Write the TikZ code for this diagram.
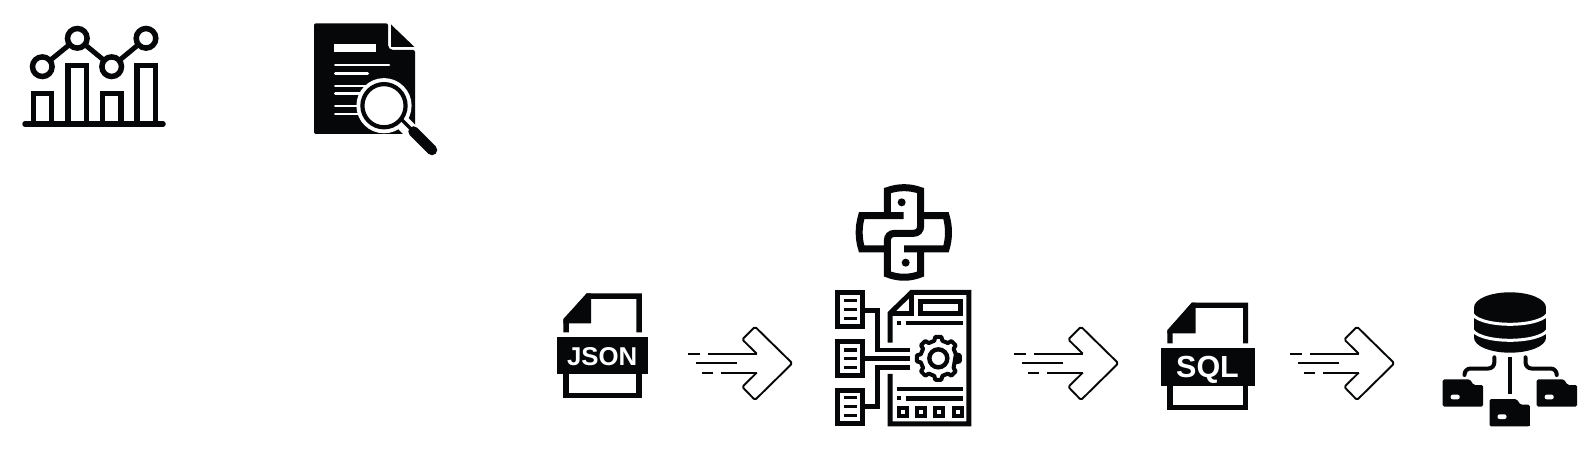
\documentclass[tikz,border=0pt]{standalone}
\usepackage{fontspec}
\setmainfont{Liberation Sans}
\definecolor{ink}{HTML}{050708}
\tikzset{
  ln/.style={draw=ink,line width=#1,line cap=butt,line join=miter},
  rln/.style={draw=ink,line width=#1,line cap=round,line join=round},
  wln/.style={draw=white,line width=#1,line cap=round},
  banner/.style={font=\bfseries\fontsize{#1}{#1}\selectfont,text=white,anchor=base,inner sep=0pt},
  flowarrow/.pic={
    \draw[draw=ink,line width=1.9pt,line join=round,rounded corners=1.6pt]
      (756.7,353.7) -- (742.3,339.5) -- (755,326.7) -- (792.3,363.3) -- (755,400) -- (742.3,386.9) -- (756.7,372.7);
    \draw[draw=ink,line width=1.9pt] (756.9,353.7) -- (708.3,353.7);
    \draw[draw=ink,line width=1.9pt] (700,353.7) -- (688.3,353.7);
    \draw[draw=ink,line width=1.9pt] (737.3,363.3) -- (696,363.3);
    \draw[draw=ink,line width=1.9pt] (756.9,372.7) -- (721,372.7);
    \draw[draw=ink,line width=1.9pt] (713.3,372.7) -- (701.7,372.7);
  }
}
\begin{document}
\begin{tikzpicture}[x=1pt,y=-1pt]
\useasboundingbox (0,0) rectangle (1595,476);

% --- chart icon
\draw[rln=5.5pt] (25,124) -- (163,124);
\draw[ln=5.4pt] (33.5,124) -- (33.5,93.3) -- (51.5,93.3) -- (51.5,124);
\draw[ln=5.4pt] (68,124) -- (68,65.5) -- (86.5,65.5) -- (86.5,124);
\draw[ln=5.4pt] (102.7,124) -- (102.7,93.3) -- (120.8,93.3) -- (120.8,124);
\draw[ln=5.4pt] (137,124) -- (137,65.5) -- (155.2,65.5) -- (155.2,124);
\draw[ln=5pt] (42.3,66.7) -- (77.3,38.3) -- (111.7,66.7) -- (146,38.3);
\foreach \p in {(42.3,66.7),(77.3,38.3),(111.7,66.7),(146,38.3)}
  \draw[draw=ink,fill=white,line width=5.5pt] \p circle[radius=9.8];

% --- document search icon
\fill[ink,rounded corners=2pt] (314,23.3) -- (388,23.3) -- (388,47) -- (391,50) -- (415,50) -- (415,134) -- (314,134) -- cycle;
\fill[ink] (391,24.5) -- (414.5,47) -- (391,47) -- cycle;
\fill[white] (334.3,44.3) rectangle (375.7,52);
\foreach \yy/\xe in {65/389,73.3/367.7,86/375,93.7/375,106/375,114/375}
  \draw[wln=2.6pt] (335.3,\yy) -- (\xe,\yy);
\draw[wln=15pt,line cap=butt] (400,120) -- (426,147);
\fill[white] (384,105.7) circle[radius=27.6];
\draw[draw=ink,fill=white,line width=4.2pt] (384,105.7) circle[radius=21.6];
\draw[ln=3.4pt] (400,118) -- (414,132);
\draw[rln=10.5pt] (413.5,131.5) -- (432,150);

% --- JSON file
\draw[ln=5.5pt] (566.1,332.3) -- (566.1,320) -- (588,296.1) -- (639,296.1) -- (639,332.3);
\fill[ink] (563.3,320) -- (586.7,293.3) -- (591,293.3) -- (591,323.3) -- (563.3,323.3) -- cycle;
\fill[ink] (557,337) rectangle (647.7,374);
\draw[ln=5.5pt] (566.1,374) -- (566.1,395.6) -- (639,395.6) -- (639,374);
\node[banner=25.8] (jsonlabel) at (602.2,365.3) {JSON};

% --- arrows
\pic {flowarrow};
\pic[xshift=326pt] {flowarrow};
\pic[xshift=602pt] {flowarrow};

% --- python logo
\begin{scope}[shift={(810,175)},x=.3333pt,y=-.3333pt]
\draw[ln=7pt] (281,122) -- (232,122) -- (155,122) .. controls (145,155) and (145,190) .. (155,222) -- (232,222) -- (232,198) .. controls (232,184) and (240,175) .. (254,175) -- (310,175) .. controls (324,175) and (332,166) .. (332,152) -- (332,47) .. controls (300,35) and (265,35) .. (232,47) -- (232,122);
\draw[ln=7pt] (282,222) -- (332,222) -- (408,222) .. controls (418,190) and (418,155) .. (408,122) -- (332,122);
\draw[ln=7pt] (332,222) -- (332,297) .. controls (300,310) and (265,310) .. (232,297) -- (232,222);
\fill[ink] (275,82) circle[radius=12];
\fill[ink] (287,263) circle[radius=12];
\end{scope}

% --- processing sheet
\begin{scope}[shift={(810,280)},x=.3333pt,y=-.3333pt]
\foreach \ty/\by/\la/\lb/\lc in {37/140/62/88/115,185/288/210/236/262,332/430/353/380/407}{
  \draw[ln=5pt] (82,\ty) rectangle (158,\by);
  \foreach \l in {\la,\lb,\lc}
    \draw[ln=3.6pt] (103,\l) -- (140,\l);
}
\draw[ln=4.8pt] (165,92) -- (203,92) -- (203,210) -- (300,210);
\draw[ln=4.8pt] (165,236) -- (300,236);
\draw[ln=4.8pt] (165,380) -- (203,380) -- (203,263) -- (300,263);
\draw[ln=5pt] (240,188) -- (240,100) -- (305,37) -- (477,37) -- (477,432) -- (240,432) -- (240,282);
\draw[ln=5pt] (305,37) -- (305,100) -- (240,100);
\draw[ln=4.8pt] (331,65) rectangle (452,101);
\fill[ink] (261,123) rectangle (273,135);
\draw[ln=4.4pt] (287,129) -- (459,129);
\draw[ln=4.4pt] (262,327) -- (459,327);
\fill[ink] (261,349) rectangle (273,361);
\draw[ln=4.4pt] (287,355) -- (459,355);
\foreach \sx in {278,333,388,443}
  \draw[ln=4.2pt] (\sx-12,383) rectangle (\sx+12,407);
\draw[draw=ink,line width=4pt,line join=round]
  (385+54*cos 13,235-54*sin 13)
  \foreach \a in {0,45,...,315}{
    -- ({385+54*cos(\a-13)},{235-54*sin(\a-13)})
    -- ({385+65*cos(\a-8)},{235-65*sin(\a-8)})
    -- ({385+65*cos(\a+8)},{235-65*sin(\a+8)})
    -- ({385+54*cos(\a+13)},{235-54*sin(\a+13)})
  } -- cycle;
\draw[ln=4.4pt] (385,235) circle[radius=27];
\end{scope}

% --- SQL file
\draw[ln=5.2pt] (1170,343.3) -- (1170,331) -- (1193,305.3) -- (1245.6,305.3) -- (1245.6,343.3);
\fill[ink] (1167.3,331) -- (1191.7,302.7) -- (1195.7,302.7) -- (1195.7,333.3) -- (1167.3,333.3) -- cycle;
\fill[ink] (1161,348.3) rectangle (1254.7,386);
\draw[ln=5.2pt] (1170,386) -- (1170,407.4) -- (1245.6,407.4) -- (1245.6,386);
\node[banner=30.5] (sqllabel) at (1207.5,377) {SQL};

% --- database
\fill[ink] (1474,307.5) rectangle (1546,337.7);
\fill[ink] (1510,307.5) ellipse[x radius=36,y radius=15.2];
\fill[ink] (1510,337.7) ellipse[x radius=36,y radius=15];
\draw[draw=white,line width=3pt] (1472,312) arc[start angle=180,end angle=0,x radius=38,y radius=12.3];
\draw[draw=white,line width=3pt] (1472,328) arc[start angle=180,end angle=0,x radius=38,y radius=12.3];
\draw[ln=4pt] (1510,357.3) -- (1510,394);
\draw[rln=4pt,rounded corners=6pt] (1494.3,357.3) -- (1494.3,368.5) -- (1464.5,368.5) -- (1464.5,375);
\draw[rln=4pt,rounded corners=6pt] (1525.5,357.3) -- (1525.5,368.5) -- (1556.7,368.5) -- (1556.7,375);

% --- folders
\foreach \fx/\fy in {1442.7/379.3,1536.7/379.3,1489.5/399}{
  \fill[ink,rounded corners=1.5pt] (\fx,\fy) -- (\fx+27,\fy) -- (\fx+31,\fy+5.7) -- (\fx+40.3,\fy+5.7) -- (\fx+40.3,\fy+27.4) -- (\fx,\fy+27.4) -- cycle;
  \fill[white,rounded corners=2pt] (\fx+8,\fy+15.4) rectangle (\fx+17,\fy+20);
}
\fill[ink] (1492.5,424) rectangle (1530,426);
\end{tikzpicture}
\end{document}
